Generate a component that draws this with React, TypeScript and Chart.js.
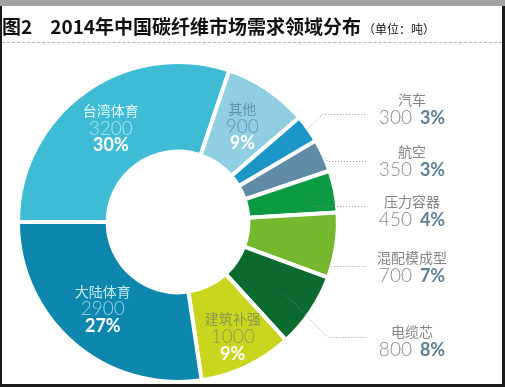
import { useEffect, useRef } from "react";
import { Chart, registerables } from "chart.js";
Chart.register(...registerables);

const categories = ["台湾体育", "其他", "汽车", "航空", "压力容器", "混配模成型", "电缆芯", "建筑补强", "大陆体育"];
const values = [3200, 900, 300, 350, 450, 700, 800, 1000, 2900];
const percents = [30, 9, 3, 3, 4, 7, 8, 9, 27];
const sliceColors = ["#3ebcd6", "#8fcfe1", "#1c95c7", "#5f8ba6", "#0c9a42", "#74b82e", "#0b6b2f", "#c9d61d", "#0e87ae"];

// which slices are labelled inside, and their text colours
const insideIdx = [0, 1, 7, 8];
const insideNameColor = ["#e4f6fa", "#5f91aa", "#8a9c4e", "#c4e8f3"];
const insideValueColor = ["#a9e2ef", "#6596ae", "#8f9d55", "#8fd4e8"];

// callout labels on the right
const calloutIdx = [2, 3, 4, 5, 6];
const calloutNameY = [100, 152, 202, 258, 332];
const calloutLineY = [114, 161, 206, 266, 337];
const calloutFromInside = [false, false, true, true, true];

const labelPlugin = {
  id: "labels",
  afterDatasetsDraw(chart: any) {
    const ctx = chart.ctx;
    const meta = chart.getDatasetMeta(0);
    ctx.save();
    ctx.textAlign = "center";
    ctx.textBaseline = "middle";
    // inside labels
    insideIdx.forEach((idx, k) => {
      const arc = meta.data[idx];
      const mid = (arc.startAngle + arc.endAngle) / 2;
      const r = (arc.innerRadius + arc.outerRadius) / 2 + (idx === 7 ? 12 : 0);
      const x = arc.x + Math.cos(mid) * r;
      const y = arc.y + Math.sin(mid) * r;
      ctx.font = '400 14px "Noto Sans CJK SC"';
      ctx.fillStyle = insideNameColor[k];
      ctx.fillText(categories[idx], x, y - 18);
      ctx.font = '300 19px Lato, "Noto Sans"';
      ctx.fillStyle = insideValueColor[k];
      ctx.fillText(String(values[idx]), x, y);
      ctx.font = '700 18px Lato, "Noto Sans"';
      ctx.fillStyle = "#ffffff";
      ctx.fillText(percents[idx] + "%", x, y + 17);
    });
    // callouts
    const textX = 412;
    const lineEnd = 367;
    calloutIdx.forEach((idx, k) => {
      const arc = meta.data[idx];
      const mid = (arc.startAngle + arc.endAngle) / 2;
      const r = calloutFromInside[k] ? arc.innerRadius + (arc.outerRadius - arc.innerRadius) * 0.66 : arc.outerRadius - 1;
      const sx = arc.x + Math.cos(mid) * r;
      const sy = arc.y + Math.sin(mid) * r;
      const ly = calloutLineY[k];
      const ex = sx + Math.abs(ly - sy);
      ctx.beginPath();
      ctx.setLineDash([1, 2]);
      ctx.lineWidth = 1;
      ctx.strokeStyle = "rgba(140,140,140,0.9)";
      ctx.moveTo(sx, sy);
      ctx.lineTo(ex, ly + 0.5);
      ctx.lineTo(lineEnd, ly + 0.5);
      ctx.stroke();
      ctx.setLineDash([]);
      const ny = calloutNameY[k];
      ctx.font = '400 14px "Noto Sans CJK SC"';
      ctx.fillStyle = "#858585";
      ctx.textAlign = "center";
      ctx.fillText(categories[idx], textX, ny);
      const vText = String(values[idx]);
      const pText = percents[idx] + "%";
      ctx.font = '300 19px Lato, "Noto Sans"';
      const vw = ctx.measureText(vText).width;
      ctx.font = '700 18px Lato, "Noto Sans"';
      const pw = ctx.measureText(pText).width;
      const gap = 8;
      const total = vw + gap + pw;
      const left = textX - total / 2;
      ctx.textAlign = "left";
      ctx.font = '300 19px Lato, "Noto Sans"';
      ctx.fillStyle = "#8c8c8c";
      ctx.fillText(vText, left, ny + 18);
      ctx.font = '700 18px Lato, "Noto Sans"';
      ctx.fillStyle = "#5f8098";
      ctx.fillText(pText, left + vw + gap, ny + 18);
      ctx.textAlign = "center";
    });
    ctx.restore();
  },
};

export default function App() {
  const ref = useRef<HTMLCanvasElement>(null);
  useEffect(() => {
    document.body.style.margin = "0";
    const chart = new Chart(ref.current!, {
      type: "doughnut",
      data: {
        labels: categories,
        datasets: [
          {
            data: values,
            backgroundColor: sliceColors,
            borderColor: "#ffffff",
            borderWidth: 4,
            hoverOffset: 0,
          },
        ],
      },
      options: {
        animation: false,
        responsive: false,
        rotation: -90,
        cutout: "44%",
        layout: { padding: { left: 16, top: 60, right: 165, bottom: 3 } },
        plugins: { legend: { display: false }, tooltip: { enabled: false } },
        events: [],
      },
      plugins: [labelPlugin],
    });
    return () => chart.destroy();
  }, []);
  return (
    <div style={{ position: "fixed", left: 0, top: 0, width: 505, height: 387, background: "#fff", overflow: "hidden" }}>
      <canvas ref={ref} width={505} height={387} style={{ position: "absolute", left: 0, top: 0, width: 505, height: 387 }} />
      <div style={{ position: "absolute", left: 0, top: 0, width: 505, height: 6, background: "#a2a2a2" }} />
      <div style={{ position: "absolute", left: 0, top: 6, width: 2, height: 381, background: "#1a1a1a" }} />
      <div style={{ position: "absolute", left: 502, top: 6, width: 3, height: 381, background: "#1a1a1a" }} />
      <div style={{ position: "absolute", left: 0, top: 384, width: 505, height: 3, background: "#1a1a1a" }} />
      <div style={{ position: "absolute", left: 2, top: 42, width: 500, height: 0, borderTop: "1px dashed #b5b5b5" }} />
      <div
        style={{
          position: "absolute",
          left: 2,
          top: 15,
          whiteSpace: "nowrap",
          fontFamily: '"Noto Sans CJK SC", sans-serif',
          fontWeight: 700,
          fontSize: 19,
          lineHeight: "22px",
          color: "#111",
        }}
      >
        图2<span style={{ display: "inline-block", width: 18 }} />2014年中国碳纤维市场需求领域分布
        <span style={{ fontSize: 12, fontWeight: 400, marginLeft: 2 }}>（单位：吨）</span>
      </div>
    </div>
  );
}
